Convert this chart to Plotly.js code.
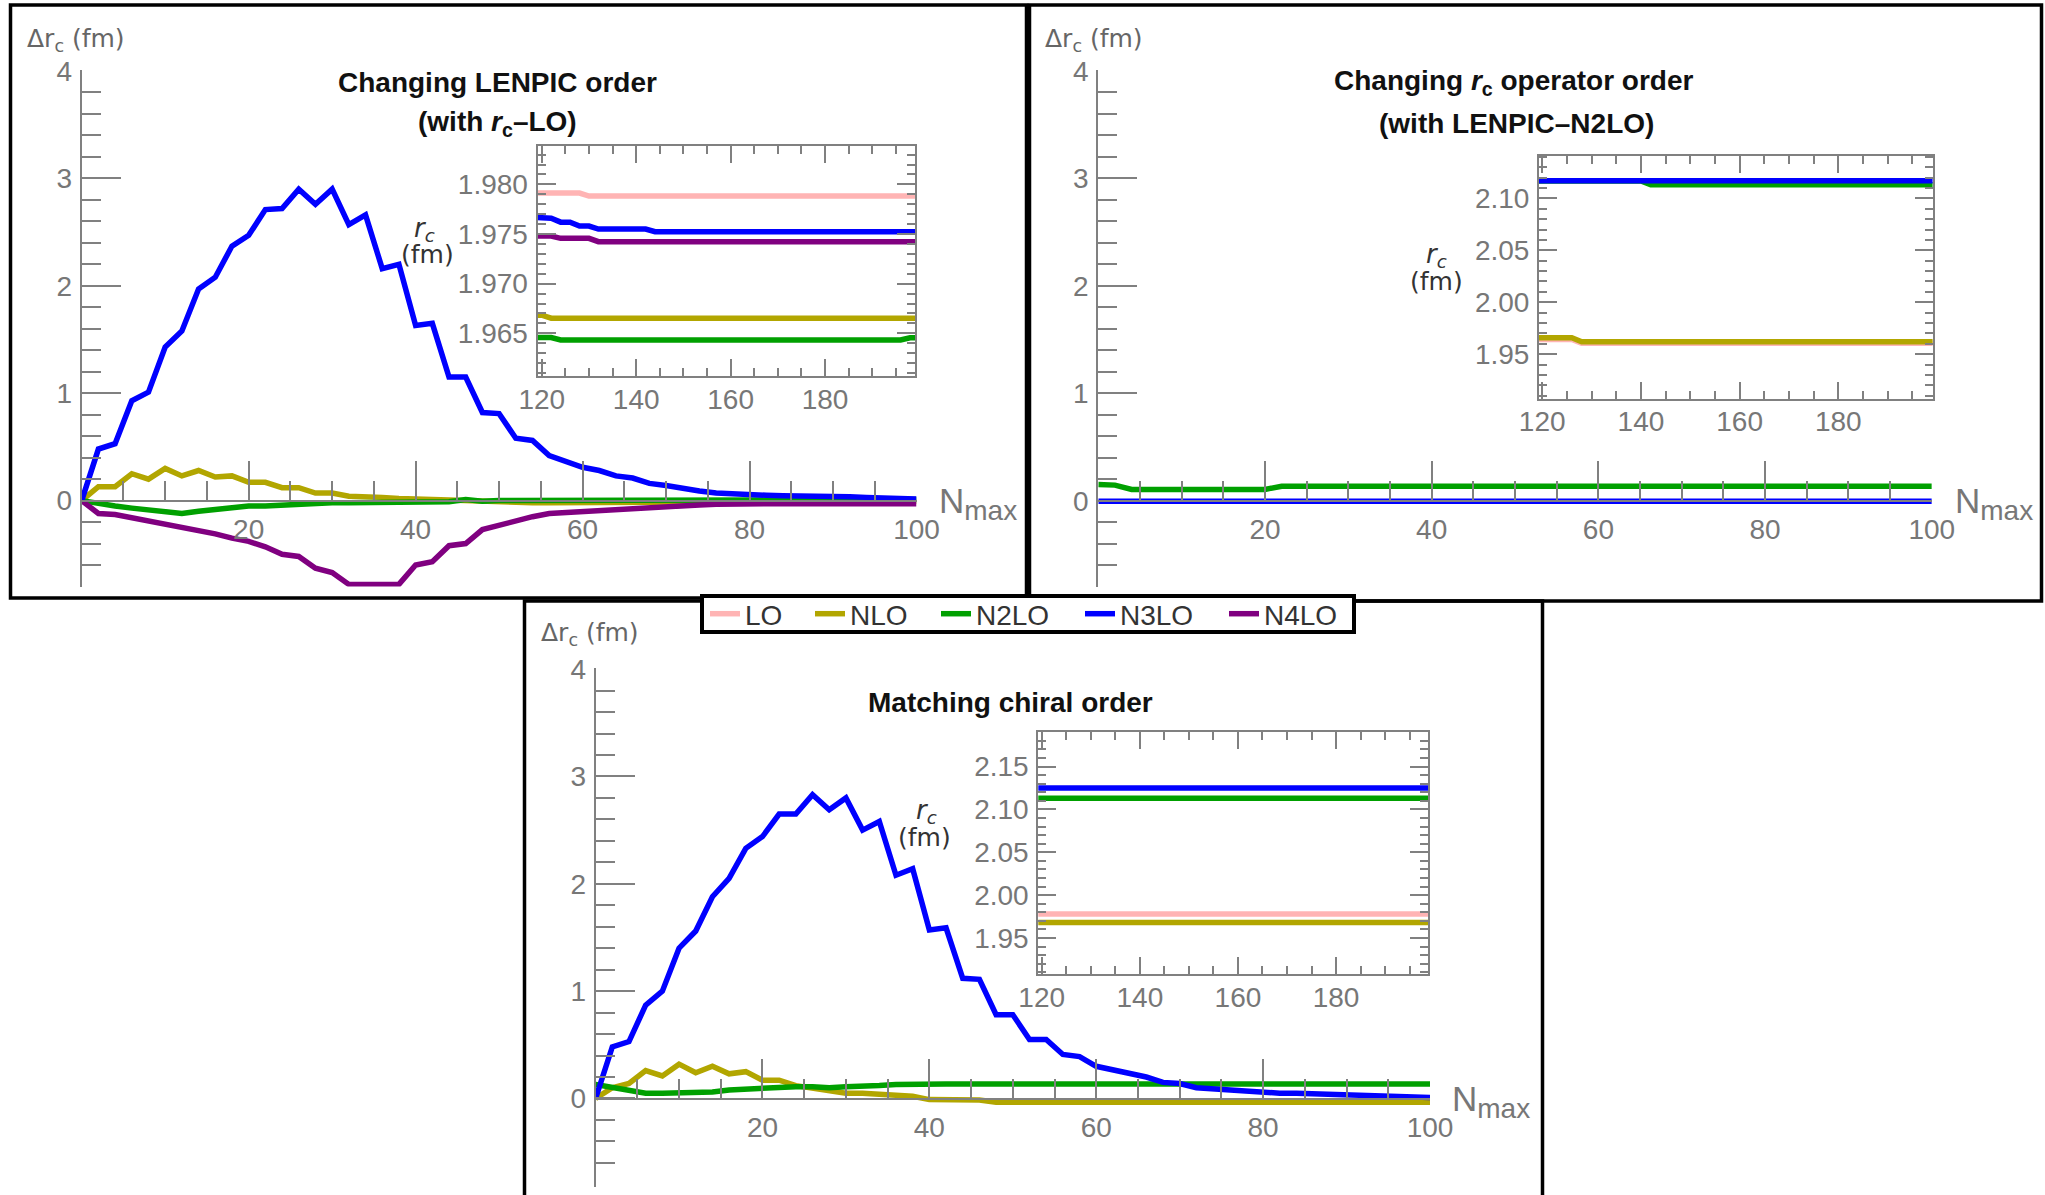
<!DOCTYPE html>
<html><head><meta charset="utf-8">
<script src="https://cdn.plot.ly/plotly-3.0.1.min.js"></script>
<style>html,body{margin:0;padding:0;background:#fff}#chart{width:2045px;height:1195px}</style>
</head><body><div id="chart"></div><script>
const W = 2045, H = 1195;
const px = v => v / W, py = v => 1 - v / H;

// ---------------- data ----------------
const seriesNames = ['LO', 'NLO', 'N2LO', 'N3LO', 'N4LO'];
const nmax = [0,2,4,6,8,10,12,14,16,18,20,22,24,26,28,30,32,34,36,38,40,42,44,46,48,50,52,54,56,58,60,62,64,66,68,70,72,74,76,78,80,82,84,86,88,90,92,94,96,98,100];
const nmaxEnds = [0, 100];
const xTickVals = [20, 40, 60, 80, 100];
const yTickVals = [0, 1, 2, 3, 4];

// Panel 1: Changing LENPIC order (with rc-LO)
const p1NLO  = [0,0.13,0.13,0.25,0.2,0.3,0.23,0.28,0.22,0.23,0.17,0.17,0.12,0.12,0.07,0.07,0.04,0.04,0.03,0.02,0.02,0.01,0.005,0,-0.01,-0.02,-0.02,-0.02,-0.02,-0.02,-0.02,-0.02,-0.015,-0.015,-0.01,-0.01,-0.01,-0.01,-0.01,-0.01,-0.01,-0.005,-0.005,-0.005,-0.005,-0.005,-0.005,-0.005,-0.005,-0.005,-0.005];
const p1N2LO = [0,-0.03,-0.05,-0.07,-0.09,-0.1,-0.12,-0.1,-0.08,-0.07,-0.05,-0.05,-0.04,-0.04,-0.03,-0.02,-0.02,-0.02,-0.02,-0.02,-0.015,-0.01,-0.01,0.01,-0.005,0,0,0,0,0,0,0,0,0,0,0,0,0,0,0.01,0.01,0.01,0.01,0.01,0.01,0.01,0.01,0.01,0.01,0.01,0.01];
const p1N3LO = [0,0.48,0.53,0.93,1.01,1.43,1.58,1.97,2.08,2.37,2.47,2.71,2.72,2.9,2.76,2.9,2.57,2.66,2.16,2.2,1.63,1.65,1.15,1.15,0.82,0.81,0.58,0.56,0.42,0.37,0.31,0.28,0.23,0.21,0.16,0.14,0.11,0.09,0.07,0.06,0.05,0.05,0.045,0.045,0.04,0.035,0.035,0.03,0.025,0.02,0.015];
const p1N4LO = [0,-0.12,-0.13,-0.16,-0.19,-0.21,-0.24,-0.27,-0.31,-0.35,-0.38,-0.43,-0.5,-0.52,-0.63,-0.67,-0.78,-0.78,-0.78,-0.78,-0.6,-0.57,-0.42,-0.4,-0.27,-0.23,-0.18,-0.15,-0.12,-0.11,-0.1,-0.09,-0.08,-0.07,-0.06,-0.05,-0.045,-0.04,-0.035,-0.03,-0.03,-0.03,-0.03,-0.03,-0.03,-0.03,-0.03,-0.03,-0.03,-0.03,-0.03];

// Panel 2: Changing rc operator order (with LENPIC-N2LO)
const p2N2LO = [0.15,0.145,0.105,0.105,0.105,0.105,0.105,0.105,0.105,0.105,0.105,0.135,0.135,0.135,0.135,0.135,0.135,0.135,0.135,0.135,0.135,0.135,0.135,0.135,0.135,0.135,0.135,0.135,0.135,0.135,0.135,0.135,0.135,0.135,0.135,0.135,0.135,0.135,0.135,0.135,0.135,0.135,0.135,0.135,0.135,0.135,0.135,0.135,0.135,0.135,0.135];
const p2N3LO = [-0.005, -0.005];

// Panel 3: Matching chiral order
const p3NLO  = [0,0.1,0.14,0.26,0.21,0.32,0.24,0.3,0.23,0.25,0.17,0.17,0.12,0.1,0.07,0.05,0.05,0.04,0.03,0.02,-0.01,-0.01,-0.015,-0.015,-0.035,-0.035,-0.035,-0.035,-0.035,-0.035,-0.035,-0.035,-0.035,-0.035,-0.035,-0.035,-0.035,-0.035,-0.035,-0.035,-0.035,-0.035,-0.035,-0.035,-0.035,-0.035,-0.035,-0.035,-0.035,-0.035,-0.035];
const p3N2LO = [0.13,0.1,0.07,0.05,0.05,0.05,0.055,0.06,0.08,0.09,0.1,0.11,0.11,0.11,0.1,0.11,0.11,0.12,0.13,0.135,0.135,0.135,0.135,0.135,0.135,0.135,0.135,0.135,0.135,0.135,0.135,0.135,0.135,0.135,0.135,0.135,0.135,0.135,0.135,0.135,0.135,0.135,0.135,0.135,0.135,0.135,0.135,0.135,0.135,0.135,0.135];
const p3N3LO = [0,0.48,0.53,0.87,1.0,1.4,1.56,1.88,2.05,2.33,2.44,2.65,2.65,2.83,2.69,2.8,2.5,2.58,2.08,2.14,1.57,1.59,1.12,1.11,0.78,0.78,0.55,0.55,0.41,0.39,0.3,0.27,0.23,0.2,0.15,0.14,0.1,0.09,0.08,0.065,0.055,0.05,0.05,0.045,0.04,0.035,0.03,0.03,0.025,0.02,0.01];

// Insets: r_c (fm) at large Nmax
const insetN    = [118,120,122,124,126,128,130,132,134,136,138,140,142,144,146,148,150,160,170,180,190,196,198,200];
const insetEnds = [118, 200];
const insetXTicks = [120, 140, 160, 180];
const in1LO   = [1.97913,1.97913,1.97913,1.97913,1.97913,1.97913,1.97883,1.97883,1.97883,1.97883,1.97883,1.97883,1.97883,1.97883,1.97883,1.97883,1.97883,1.97883,1.97883,1.97883,1.97883,1.97883,1.97883,1.97883];
const in1NLO  = [1.96683,1.96683,1.96653,1.96653,1.96653,1.96653,1.96653,1.96653,1.96653,1.96653,1.96653,1.96653,1.96653,1.96653,1.96653,1.96653,1.96653,1.96653,1.96653,1.96653,1.96653,1.96653,1.96653,1.96653];
const in1N2LO = [1.96457,1.96457,1.96457,1.96433,1.96433,1.96433,1.96433,1.96433,1.96433,1.96433,1.96433,1.96433,1.96433,1.96433,1.96433,1.96433,1.96433,1.96433,1.96433,1.96433,1.96433,1.96433,1.96455,1.96455];
const in1N3LO = [1.9767,1.9767,1.9766,1.9762,1.9762,1.9758,1.9758,1.9755,1.9755,1.9755,1.9755,1.9755,1.9755,1.97523,1.97523,1.97523,1.97523,1.97523,1.97523,1.97523,1.97523,1.97523,1.97523,1.97523];
const in1N4LO = [1.9748,1.9748,1.9748,1.97457,1.97457,1.97457,1.97457,1.97423,1.97423,1.97423,1.97423,1.97423,1.97423,1.97423,1.97423,1.97423,1.97423,1.97423,1.97423,1.97423,1.97423,1.97423,1.97423,1.97423];
const in1YTicks = [1.965, 1.970, 1.975, 1.980];

const in2LO   = [1.9642,1.9642,1.9642,1.9642,1.9642,1.9605,1.9605,1.9605,1.9605,1.9605,1.9605,1.9605,1.9605,1.9605,1.9605,1.9605,1.9605,1.9605,1.9605,1.9605,1.9605,1.9605,1.9605,1.9605];
const in2NLO  = [1.9658,1.9658,1.9658,1.9658,1.9658,1.962,1.962,1.962,1.962,1.962,1.962,1.962,1.962,1.962,1.962,1.962,1.962,1.962,1.962,1.962,1.962,1.962,1.962,1.962];
const in2N2LO = [2.1167,2.1167,2.1167,2.1167,2.1167,2.1167,2.1167,2.1167,2.1167,2.1167,2.1167,2.1167,2.1131,2.1131,2.1131,2.1131,2.1131,2.1131,2.1131,2.1131,2.1131,2.1131,2.1131,2.1131];
const in2N3LO = [2.1169, 2.1169];
const in2YTicks = [1.95, 2.00, 2.05, 2.10];

const in3LO   = [1.978, 1.978];
const in3NLO  = [1.968, 1.968];
const in3N2LO = [2.113, 2.113];
const in3N3LO = [2.125, 2.125];
const in3YTicks = [1.95, 2.00, 2.05, 2.10, 2.15];

// ---------------- style ----------------
const colors = {LO: '#ffb4b4', NLO: '#b2a600', N2LO: '#00a000', N3LO: '#0000ff', N4LO: '#800080'};
const FONT = 'Liberation Sans, Arial, Helvetica, sans-serif';
const WIDEFONT = 'DejaVu Sans, Liberation Sans, Arial, sans-serif';
const AX = '#808080', TICKTXT = '#777777';
const LW = 5.5;
const legendIds = {LO: 'legend', NLO: 'legend2', N2LO: 'legend3', N3LO: 'legend4', N4LO: 'legend5'};

function tr(x, y, xa, ya, name, inLegend) {
  return {type: 'scatter', mode: 'lines', x: x, y: y, xaxis: xa, yaxis: ya, name: name,
    line: {color: colors[name], width: LW}, showlegend: !!inLegend,
    legend: legendIds[name], hoverinfo: 'skip'};
}

const data = [
  tr(nmax, p1NLO, 'x', 'y', 'NLO', true),
  tr(nmax, p1N2LO, 'x', 'y', 'N2LO', true),
  tr(nmax, p1N4LO, 'x', 'y', 'N4LO', true),
  tr(nmax, p1N3LO, 'x', 'y', 'N3LO', true),
  tr(insetN, in1LO, 'x2', 'y2', 'LO', true),
  tr(insetN, in1NLO, 'x2', 'y2', 'NLO'),
  tr(insetN, in1N2LO, 'x2', 'y2', 'N2LO'),
  tr(insetN, in1N4LO, 'x2', 'y2', 'N4LO'),
  tr(insetN, in1N3LO, 'x2', 'y2', 'N3LO'),
  tr(nmax, p2N2LO, 'x3', 'y3', 'N2LO'),
  tr(nmaxEnds, p2N3LO, 'x3', 'y3', 'N3LO'),
  tr(insetN, in2LO, 'x4', 'y4', 'LO'),
  tr(insetN, in2NLO, 'x4', 'y4', 'NLO'),
  tr(insetN, in2N2LO, 'x4', 'y4', 'N2LO'),
  tr(insetEnds, in2N3LO, 'x4', 'y4', 'N3LO'),
  tr(nmax, p3NLO, 'x5', 'y5', 'NLO'),
  tr(nmax, p3N2LO, 'x5', 'y5', 'N2LO'),
  tr(nmax, p3N3LO, 'x5', 'y5', 'N3LO'),
  tr(insetEnds, in3LO, 'x6', 'y6', 'LO'),
  tr(insetEnds, in3NLO, 'x6', 'y6', 'NLO'),
  tr(insetEnds, in3N2LO, 'x6', 'y6', 'N2LO'),
  tr(insetEnds, in3N3LO, 'x6', 'y6', 'N3LO'),
];

const tickFont = {family: FONT, size: 28, color: TICKTXT};
// evenly spaced positions for minor ticks (axis decoration only)
function steps(a, b, s) { const out = []; const n = Math.round((b - a) / s); for (let i = 0; i <= n; i++) out.push(+(a + i * s).toFixed(6)); return out; }

function mainAxes(xa, ya, xId, x0px, x1px, y0px, y4px, ymin) {
  const unit = (y0px - y4px) / 4;
  const ymax = 4.006;
  const yDom = [py(y0px - ymin * unit), py(y0px - ymax * unit)];
  layout[xa] = {domain: [px(x0px), px(x1px)], range: [0, 100], anchor: 'free', position: py(y0px),
    showline: true, linecolor: AX, linewidth: 2, showgrid: false, zeroline: false,
    tickmode: 'array', tickvals: xTickVals, ticks: 'inside', ticklen: 39, tickwidth: 2, tickcolor: AX,
    minor: {tickmode: 'array', tickvals: steps(5, 95, 5), ticks: 'inside', ticklen: 19, tickwidth: 2, tickcolor: AX, showgrid: false},
    tickfont: tickFont, ticklabelstandoff: 4, fixedrange: true};
  layout[ya] = {domain: yDom, range: [ymin, ymax], anchor: xId,
    showline: true, linecolor: AX, linewidth: 2, showgrid: false, zeroline: false,
    tickmode: 'array', tickvals: yTickVals, ticks: 'inside', ticklen: 39, tickwidth: 2, tickcolor: AX,
    minor: {tickmode: 'array', tickvals: steps(-0.6, 3.8, 0.2), ticks: 'inside', ticklen: 19, tickwidth: 2, tickcolor: AX, showgrid: false},
    tickfont: tickFont, ticklabelstandoff: 2, fixedrange: true};
}

function insetAxes(xa, ya, xId, yId, x0px, x1px, xr, ytop, ybot, yr, yticks, yfmt, ydt) {
  layout[xa] = {domain: [px(x0px), px(x1px)], range: xr, anchor: yId,
    showline: true, mirror: 'ticks', linecolor: AX, linewidth: 2, showgrid: false, zeroline: false,
    tickmode: 'array', tickvals: insetXTicks, ticks: 'inside', ticklen: 17, tickwidth: 2, tickcolor: AX,
    minor: {tickmode: 'array', tickvals: steps(120, 195, 5), ticks: 'inside', ticklen: 8, tickwidth: 2, tickcolor: AX, showgrid: false},
    tickfont: tickFont, ticklabelstandoff: -3, fixedrange: true};
  const lo = Math.ceil(yr[0] / ydt - 1e-6) * ydt, hi = Math.floor(yr[1] / ydt + 1e-6) * ydt;
  layout[ya] = {domain: [py(ybot), py(ytop)], range: yr, anchor: xId,
    showline: true, mirror: 'ticks', linecolor: AX, linewidth: 2, showgrid: false, zeroline: false,
    tickmode: 'array', tickvals: yticks, tickformat: yfmt, ticks: 'inside', ticklen: 18, tickwidth: 2, tickcolor: AX,
    minor: {tickmode: 'array', tickvals: steps(lo, hi, ydt), ticks: 'inside', ticklen: 8, tickwidth: 2, tickcolor: AX, showgrid: false},
    tickfont: tickFont, ticklabelstandoff: 2, fixedrange: true};
}

const layout = {
  width: W, height: H, autosize: false,
  margin: {l: 0, r: 0, t: 0, b: 0, pad: 0},
  paper_bgcolor: '#ffffff', plot_bgcolor: 'rgba(0,0,0,0)',
  font: {family: FONT, color: '#333'},
  showlegend: true,
  shapes: [], annotations: []
};

mainAxes('xaxis', 'yaxis', 'x', 81.7, 916.5, 500.6, 71, -0.8);
insetAxes('xaxis2', 'yaxis2', 'x2', 'y2', 537.5, 915.2, [119.1, 199.1], 145.7, 376, [1.9607, 1.9839], in1YTicks, '.3f', 0.001);
mainAxes('xaxis3', 'yaxis3', 'x3', 1098.3, 1931.8, 500.7, 71, -0.8);
insetAxes('xaxis4', 'yaxis4', 'x4', 'y4', 1539, 1932.6, [119.35, 199.1], 155.6, 398.8, [1.907, 2.1412], in2YTicks, '.2f', 0.01);
mainAxes('xaxis5', 'yaxis5', 'x5', 595.6, 1430, 1098.5, 669.1, -0.82);
insetAxes('xaxis6', 'yaxis6', 'x6', 'y6', 1038.3, 1428.3, [119.3, 198.8], 732.3, 974, [1.908, 2.190], in3YTicks, '.2f', 0.01);

// legends (one per entry, placed in a shared box)
const legendLineStart = {LO: 710, NLO: 815, N2LO: 941, N3LO: 1085, N4LO: 1229};
seriesNames.forEach(n => {
  layout[legendIds[n]] = {x: px(legendLineStart[n] - 5), y: py(614), xanchor: 'left', yanchor: 'middle',
    orientation: 'h', bgcolor: 'rgba(0,0,0,0)', borderwidth: 0,
    font: {family: FONT, size: 28, color: '#333'}};
});

// frames
const frame = (x0, y0, x1, y1, fill, w) => ({type: 'rect', xref: 'paper', yref: 'paper',
  x0: px(x0), x1: px(x1), y0: py(y1), y1: py(y0), line: {color: '#000', width: w}, fillcolor: fill, layer: 'above'});
layout.shapes.push(frame(10.5, 5, 1026.5, 598, 'rgba(0,0,0,0)', 3.5));
layout.shapes.push(frame(1029.5, 5, 2041.5, 601, 'rgba(0,0,0,0)', 3.5));
layout.shapes.push(frame(524.5, 601, 1542.5, 1200, 'rgba(0,0,0,0)', 3.5));
layout.shapes.push(frame(702, 596, 1354, 632, '#ffffff', 4));

// texts
const ann = (text, x, y, xanchor, size, color, family) => ({text: text, x: px(x), y: py(y),
  xref: 'paper', yref: 'paper', xanchor: xanchor, yanchor: 'middle', showarrow: false,
  font: {family: family || FONT, size: size, color: color}});
const nmaxLabel = 'N<sub><span style="font-size:28px">max</span></sub>';
layout.annotations.push(
  ann('<b>Changing LENPIC order</b>', 497, 83, 'center', 28, '#111'),
  ann('<b>(with <i>r</i><sub>c</sub>–LO)</b>', 497, 124, 'center', 28, '#111'),
  ann('<b>Changing <i>r</i><sub>c</sub> operator order</b>', 1513, 83, 'center', 28, '#111'),
  ann('<b>(with LENPIC–N2LO)</b>', 1516, 124, 'center', 28, '#111'),
  ann('<b>Matching chiral order</b>', 1010, 702, 'center', 28, '#111'),
  ann('Δr<sub>c</sub> (fm)', 25, 40, 'left', 25, '#666', WIDEFONT),
  ann('Δr<sub>c</sub> (fm)', 1043, 40, 'left', 25, '#666', WIDEFONT),
  ann('Δr<sub>c</sub> (fm)', 539, 634, 'left', 25, '#666', WIDEFONT),
  ann(nmaxLabel, 937, 503, 'left', 35, '#777'),
  ann(nmaxLabel, 1953, 503, 'left', 35, '#777'),
  ann(nmaxLabel, 1450, 1101, 'left', 35, '#777'),
  ann('<i>r<sub>c</sub></i>', 424, 229, 'center', 26, '#333', WIDEFONT),
  ann('(fm)', 427, 254, 'center', 25, '#333', WIDEFONT),
  ann('<i>r<sub>c</sub></i>', 1436, 256, 'center', 26, '#333', WIDEFONT),
  ann('(fm)', 1436, 282, 'center', 25, '#333', WIDEFONT),
  ann('<i>r<sub>c</sub></i>', 926, 811, 'center', 26, '#333', WIDEFONT),
  ann('(fm)', 924, 837, 'center', 25, '#333', WIDEFONT)
);

Plotly.newPlot('chart', data, layout, {staticPlot: true, displayModeBar: false});
</script></body></html>
